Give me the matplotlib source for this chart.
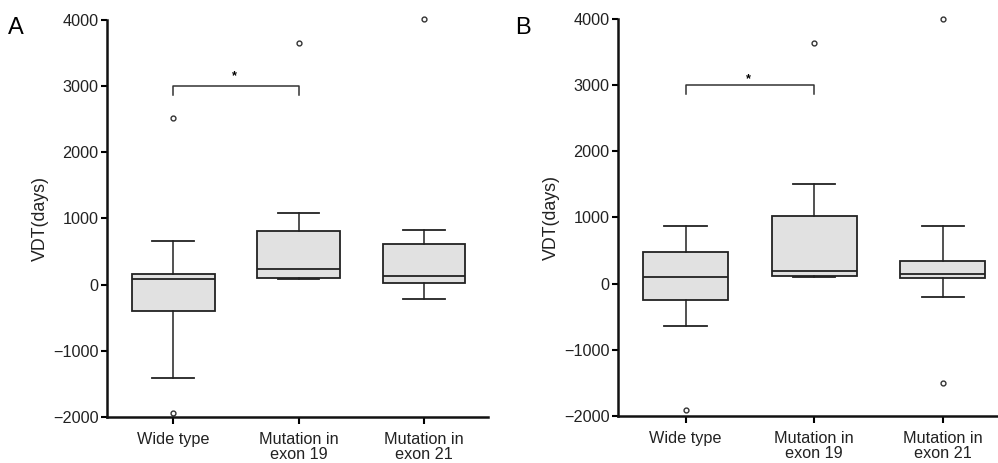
import numpy as np
import matplotlib.pyplot as plt

plt.rcParams["font.family"] = ["Liberation Sans", "DejaVu Sans"]

groups = ["Wide type", "Mutation in\nexon 19", "Mutation in\nexon 21"]

# panel A: whisker low, Q1, median, Q3, whisker high, outliers
a_whislo = [-1405, 86, -217]
a_q1 = [-398, 106, 25]
a_med = [91, 237, 126]
a_q3 = [166, 811, 609]
a_whishi = [660, 1083, 821]
a_fliers = [[2518, -1933], [3656], [4018]]

# panel B
b_whislo = [-646, 106, -207]
b_q1 = [-247, 116, 91]
b_med = [96, 197, 141]
b_q3 = [474, 1029, 343]
b_whishi = [878, 1508, 873]
b_fliers = [[-1912], [3637], [4006, -1498]]

yticks = [-2000, -1000, 0, 1000, 2000, 3000, 4000]


def make_stats(lo, q1, med, q3, hi, fl):
    return [dict(whislo=lo[i], q1=q1[i], med=med[i], q3=q3[i], whishi=hi[i],
                 fliers=fl[i]) for i in range(len(lo))]


def draw_panel(ax, stats, xmax, star_y, label, lx):
    ax.bxp(stats, positions=[1, 2, 3], widths=0.66, capwidths=0.33,
           patch_artist=True, showfliers=True,
           boxprops=dict(facecolor="#e1e1e1", edgecolor="#222222", linewidth=1.3),
           medianprops=dict(color="#222222", linewidth=1.3),
           whiskerprops=dict(color="#222222", linewidth=1.1),
           capprops=dict(color="#222222", linewidth=1.3),
           flierprops=dict(marker="o", markersize=3.5, markerfacecolor="white",
                           markeredgecolor="#333333", markeredgewidth=1.0))
    for line in ax.lines:
        line.set_clip_on(False)
    ax.set_xlim(0.473, xmax)
    ax.set_ylim(-2000, 4000)
    ax.set_yticks(yticks)
    ax.set_xticks([1, 2, 3])
    ax.set_xticklabels(groups, fontsize=11.7, color="#222222", linespacing=1.0)
    ax.tick_params(axis="y", labelsize=11.7, labelcolor="#222222", length=4, width=1.5, pad=2)
    ax.tick_params(axis="x", length=5, width=1.5, pad=6)
    for s in ["top", "right"]:
        ax.spines[s].set_visible(False)
    for s in ["left", "bottom"]:
        ax.spines[s].set_linewidth(1.8)
        ax.spines[s].set_color("#111111")
    ax.set_ylabel("VDT(days)", fontsize=12.8, color="#222222", labelpad=3)
    # significance bracket
    ax.plot([1, 1, 2, 2], [2870, 3000, 3000, 2870], color="#333333", linewidth=1.1)
    ax.text(1.49, star_y, "*", ha="center", va="center", fontsize=9, fontweight="bold")
    ax.figure.text(lx, 0.94, label, fontsize=17, ha="left", va="center")


fig = plt.figure(figsize=(9.98, 4.63), dpi=100)
ax1 = fig.add_axes([0.1072, 0.0994, 0.3818, 0.8576])
ax2 = fig.add_axes([0.6192, 0.1022, 0.3808, 0.8561])

draw_panel(ax1, make_stats(a_whislo, a_q1, a_med, a_q3, a_whishi, a_fliers),
           3.51, 3150, "A", 0.008)
draw_panel(ax2, make_stats(b_whislo, b_q1, b_med, b_q3, b_whishi, b_fliers),
           3.43, 3100, "B", 0.516)

fig.savefig("out.png", dpi=100)
